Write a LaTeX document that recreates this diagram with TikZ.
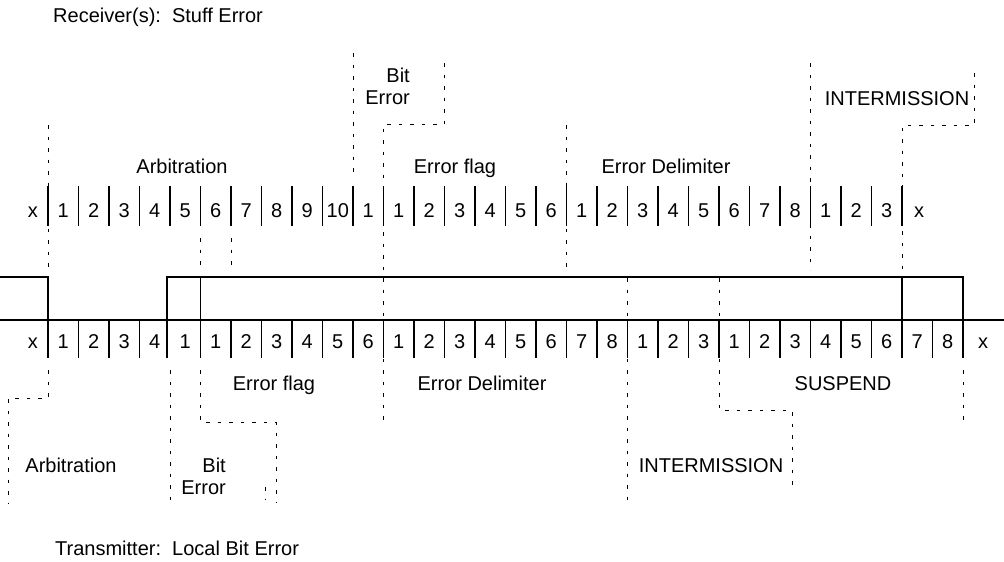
\documentclass[tikz,border=0pt]{standalone}
\usepackage{fontspec}
\setmainfont{Liberation Sans}
\begin{document}
\begin{tikzpicture}[x=1pt, y=-1pt]
    \tikzstyle{lbl} = [font=\fontsize{20}{22}\selectfont, inner sep=0pt]
    \tikzstyle{sig} = [line width=1.1pt]
    \tikzstyle{bound} = [line width=1pt, dash pattern=on 3.5pt off 8pt]
    \useasboundingbox (0,0) rectangle (1004,562);
    \node[lbl, anchor=base west] (rx) at (53,22) {Receiver(s):\ \ Stuff Error};
    \node[lbl, anchor=base west] (tx) at (55,555) {Transmitter:\ \ Local Bit Error};
    \node[lbl, anchor=base] (rxx0) at (32.75,217) {x};
    \node[lbl, anchor=base] (rxx1) at (919,217) {x};
    \foreach \n [count=\i from 0] in {1,2,3,4,5,6,7,8,9,10,1,1,2,3,4,5,6,1,2,3,4,5,6,7,8,1,2,3}
        \node[lbl, anchor=base] (r\i) at ({63.25+30.5*\i},217) {\n};
    \foreach \i in {0,...,28}
        \draw[sig] ({48+30.5*\i},186) -- ({48+30.5*\i},226);
    \node[lbl, anchor=base] (txx0) at (32.75,348) {x};
    \node[lbl, anchor=base] (txx1) at (983,348) {x};
    \foreach \n [count=\i from 0] in {1,2,3,4,1,1,2,3,4,5,6,1,2,3,4,5,6,7,8,1,2,3,1,2,3,4,5,6,7,8}
        \node[lbl, anchor=base] (t\i) at ({63.25+30.5*\i},348) {\n};
    \foreach \i in {0,...,30}
        {\ifnum\i=4\else\draw[sig] ({48+30.5*\i},320) -- ({48+30.5*\i},358);\fi}
    \draw[sig] (0,320) -- (1004,320);
    \draw[sig] (0,277) -- (48,277) -- (48,320);
    \draw[sig] (167,358) -- (167,277) -- (963,277) -- (963,320);
    \draw[sig] (200.5,277) -- (200.5,320);
    \draw[sig] (902,277) -- (902,320);
    \node[lbl, anchor=base] (rxarb) at (182,173) {Arbitration};
    \node[lbl, anchor=north east, align=right] (rxbit) at (410,68) {Bit\\Error};
    \node[lbl, anchor=base] (rxflag) at (455,173) {Error flag};
    \node[lbl, anchor=base] (rxdelim) at (666,173) {Error Delimiter};
    \node[lbl, anchor=base] (rxinter) at (897,105) {INTERMISSION};
    \node[lbl, anchor=base] (txflag) at (274,390) {Error flag};
    \node[lbl, anchor=base] (txdelim) at (482,390) {Error Delimiter};
    \node[lbl, anchor=base] (txsusp) at (843,390) {SUSPEND};
    \node[lbl, anchor=base] (txarb) at (71,472) {Arbitration};
    \node[lbl, anchor=north east, align=right] (txbit) at (226,458) {Bit\\Error};
    \node[lbl, anchor=base] (txinter) at (711,472) {INTERMISSION};
    \draw[bound] (48,125) -- (48,270);
    \draw[bound] (200.5,238) -- (200.5,270);
    \draw[bound] (231,238) -- (231,270);
    \draw[bound] (353,53) -- (353,175);
    \draw[bound] (444.5,63) -- (444.5,124) -- (383.5,124) -- (383.5,420);
    \draw[bound] (566.5,125) -- (566.5,270);
    \draw[bound] (810.5,63) -- (810.5,270);
    \draw[bound] (974,73) -- (974,125) -- (902,125) -- (902,270);
    \draw[bound] (48,370) -- (48,398) -- (8,398) -- (8,503);
    \draw[bound] (170,370) -- (170,503);
    \draw[bound] (200.5,370) -- (200.5,422) -- (276,422) -- (276,503);
    \draw[bound] (265,487) -- (265,500);
    \draw[bound] (627.5,278) -- (627.5,503);
    \draw[bound] (719,278) -- (719,410) -- (792,410) -- (792,492);
    \draw[bound] (963,370) -- (963,420);
\end{tikzpicture}
\end{document}
